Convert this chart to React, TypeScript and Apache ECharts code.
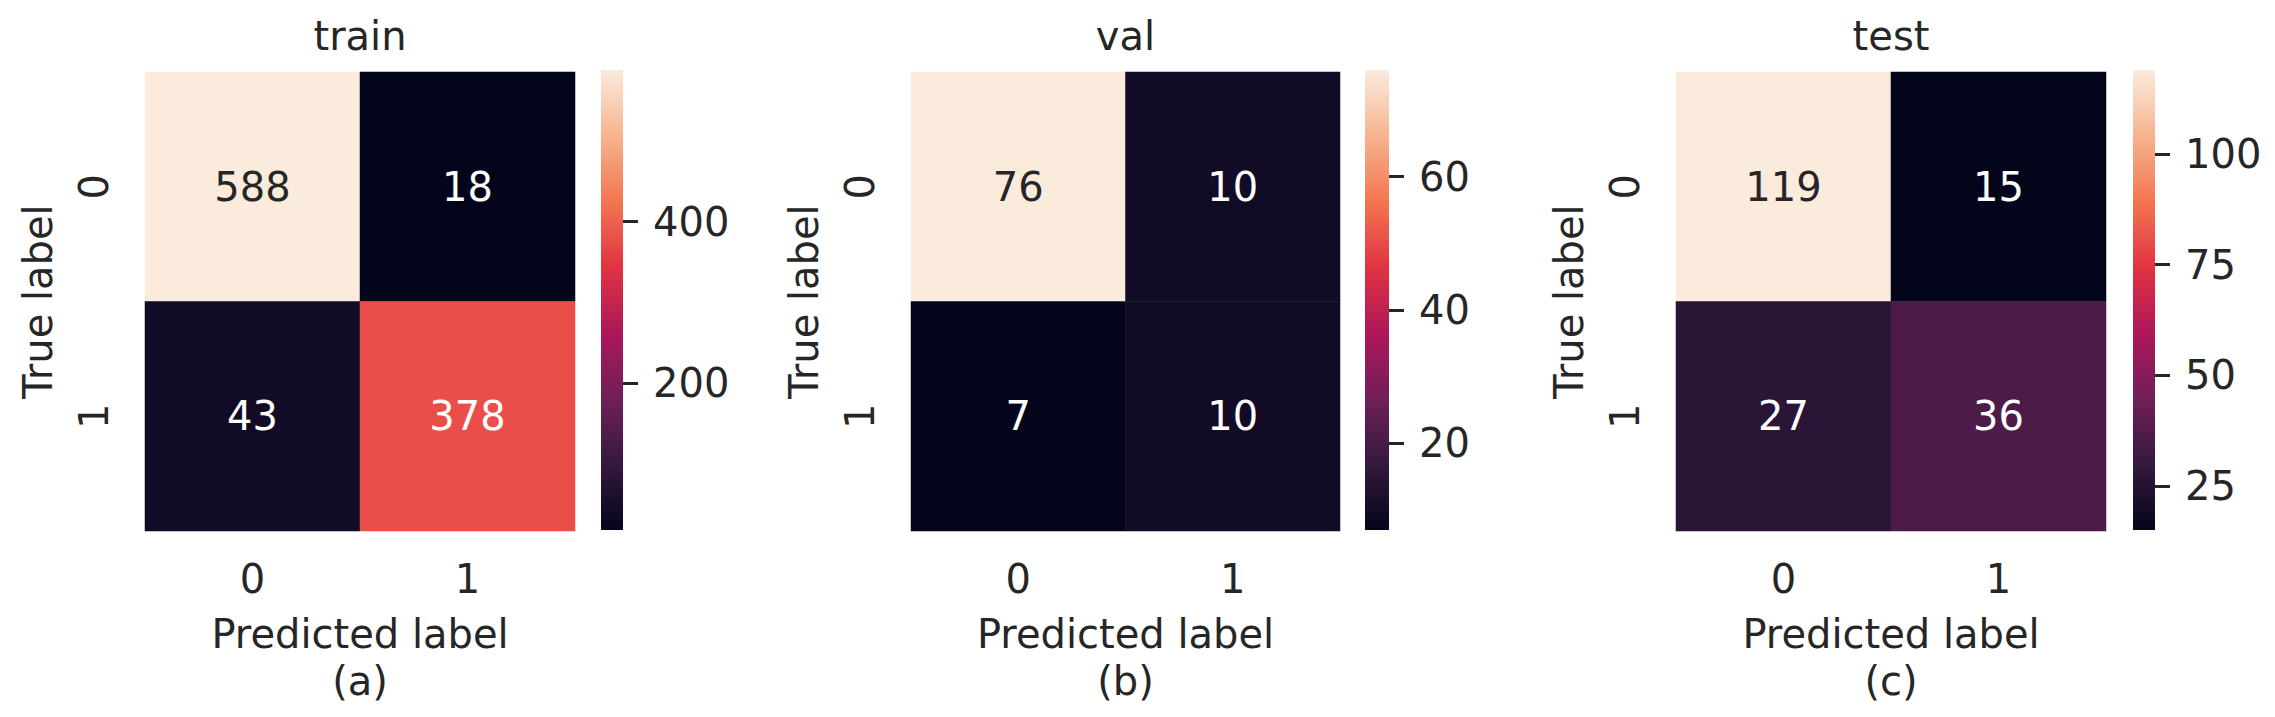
import React, { useEffect, useRef } from 'react';
import * as echarts from 'echarts';

// ---------- data ----------
const classLabels = ['0', '1'];
const panelTitles = ['train', 'val', 'test'];
const panelTags = ['(a)', '(b)', '(c)'];
const trainMatrix = [
  [588, 18],
  [43, 378],
];
const valMatrix = [
  [76, 10],
  [7, 10],
];
const testMatrix = [
  [119, 15],
  [27, 36],
];
const trainTicks = [200, 400];
const valTicks = [20, 40, 60];
const testTicks = [25, 50, 75, 100];
const xAxisTitle = 'Predicted label';
const yAxisTitle = 'True label';

// seaborn "rocket" colormap, evenly spaced stops (dark -> light)
const rocketStops = ['#03051A', '#35193E', '#701F57', '#AD1759', '#E13342', '#F37651', '#F6B48F', '#FAEBDD'];

// ---------- styling / layout ----------
const FONT = '"DejaVu Sans", "Liberation Sans", sans-serif';
const TEXT = '#262626';
const FS = 40;
const HM_TOP = 72;
const HM_H = 459;
const CB_TOP = 70;
const CB_H = 460;
const panelLayout = [
  { left: 145, width: 430, cbLeft: 601, cbWidth: 22 },
  { left: 911, width: 429, cbLeft: 1365, cbWidth: 24 },
  { left: 1676, width: 430, cbLeft: 2133, cbWidth: 22 },
];

const matrices = [trainMatrix, valMatrix, testMatrix];
const colorbarTicks = [trainTicks, valTicks, testTicks];

function buildOption() {
  const grid: any[] = [];
  const xAxis: any[] = [];
  const yAxis: any[] = [];
  const series: any[] = [];
  const visualMap: any[] = [];
  const title: any[] = [];

  matrices.forEach((m, i) => {
    const L = panelLayout[i];
    const flat = m.flat();
    const vmin = Math.min(...flat);
    const vmax = Math.max(...flat);
    const hmGrid = 2 * i;
    const cbGrid = 2 * i + 1;
    const center = L.left + L.width / 2;

    grid.push({ left: L.left, top: HM_TOP, width: L.width, height: HM_H, containLabel: false });
    grid.push({ left: L.cbLeft, top: CB_TOP, width: L.cbWidth, height: CB_H, containLabel: false });

    xAxis.push({
      type: 'category',
      gridIndex: hmGrid,
      data: classLabels,
      position: 'bottom',
      axisLine: { show: false },
      axisTick: { show: false },
      splitLine: { show: false },
      axisLabel: { fontSize: FS, color: TEXT, fontFamily: FONT, margin: 28, lineHeight: 40 },
      name: xAxisTitle,
      nameLocation: 'middle',
      nameGap: 83,
      nameTextStyle: { fontSize: FS, color: TEXT, fontFamily: FONT, lineHeight: 40 },
    });
    xAxis.push({ type: 'category', gridIndex: cbGrid, data: [''], show: false });

    yAxis.push({
      type: 'category',
      gridIndex: hmGrid,
      data: classLabels,
      inverse: true,
      axisLine: { show: false },
      axisTick: { show: false },
      splitLine: { show: false },
      axisLabel: { fontSize: FS, color: TEXT, fontFamily: FONT, rotate: 90, margin: 31, lineHeight: 40 },
      name: yAxisTitle,
      nameLocation: 'middle',
      nameRotate: 90,
      nameGap: 87,
      nameTextStyle: { fontSize: FS, color: TEXT, fontFamily: FONT, lineHeight: 40 },
    });
    yAxis.push({
      type: 'value',
      gridIndex: cbGrid,
      min: vmin,
      max: vmax,
      position: 'right',
      axisLine: { show: false },
      splitLine: { show: false },
      axisTick: {
        show: true,
        length: 15,
        lineStyle: { color: TEXT, width: 3 },
        customValues: colorbarTicks[i],
      },
      axisLabel: {
        customValues: colorbarTicks[i],
        margin: 30,
        fontSize: FS,
        color: TEXT,
        fontFamily: FONT,
        lineHeight: 40,
      },
    });

    const data: any[] = [];
    m.forEach((row, r) => {
      row.forEach((v, c) => {
        const norm = (v - vmin) / (vmax - vmin);
        data.push({ value: [c, r, v], label: { color: norm > 0.75 ? TEXT : '#ffffff' } });
      });
    });

    series.push({
      type: 'heatmap',
      xAxisIndex: hmGrid,
      yAxisIndex: hmGrid,
      data,
      silent: true,
      itemStyle: { borderWidth: 0 },
      label: { show: true, fontSize: FS, fontFamily: FONT },
    });
    series.push({
      type: 'bar',
      xAxisIndex: cbGrid,
      yAxisIndex: cbGrid,
      data: [vmax],
      barWidth: '100%',
      clip: true,
      silent: true,
      itemStyle: {
        color: new echarts.graphic.LinearGradient(
          0,
          0,
          0,
          1,
          rocketStops
            .slice()
            .reverse()
            .map((c, k) => ({ offset: k / (rocketStops.length - 1), color: c }))
        ),
      },
    });

    visualMap.push({
      type: 'continuous',
      show: false,
      seriesIndex: 2 * i,
      dimension: 2,
      min: vmin,
      max: vmax,
      inRange: { color: rocketStops },
    });

    title.push({
      text: panelTitles[i],
      left: center,
      top: 16,
      textAlign: 'center',
      padding: 0,
      textStyle: { fontSize: FS, fontWeight: 'normal', color: TEXT, fontFamily: FONT, lineHeight: 40 },
    });
    title.push({
      text: panelTags[i],
      left: center,
      top: 661,
      textAlign: 'center',
      padding: 0,
      textStyle: { fontSize: FS, fontWeight: 'normal', color: TEXT, fontFamily: FONT, lineHeight: 40 },
    });
  });

  return {
    animation: false,
    backgroundColor: '#ffffff',
    title,
    grid,
    xAxis,
    yAxis,
    visualMap,
    series,
  };
}

export default function App() {
  const ref = useRef<HTMLDivElement>(null);
  useEffect(() => {
    if (!ref.current) return;
    const chart = echarts.init(ref.current, null, { renderer: 'svg' });
    chart.setOption(buildOption() as any);
    return () => chart.dispose();
  }, []);
  return (
    <div
      ref={ref}
      style={{ position: 'absolute', left: 0, top: 0, width: 2275, height: 717, background: '#ffffff' }}
    />
  );
}
